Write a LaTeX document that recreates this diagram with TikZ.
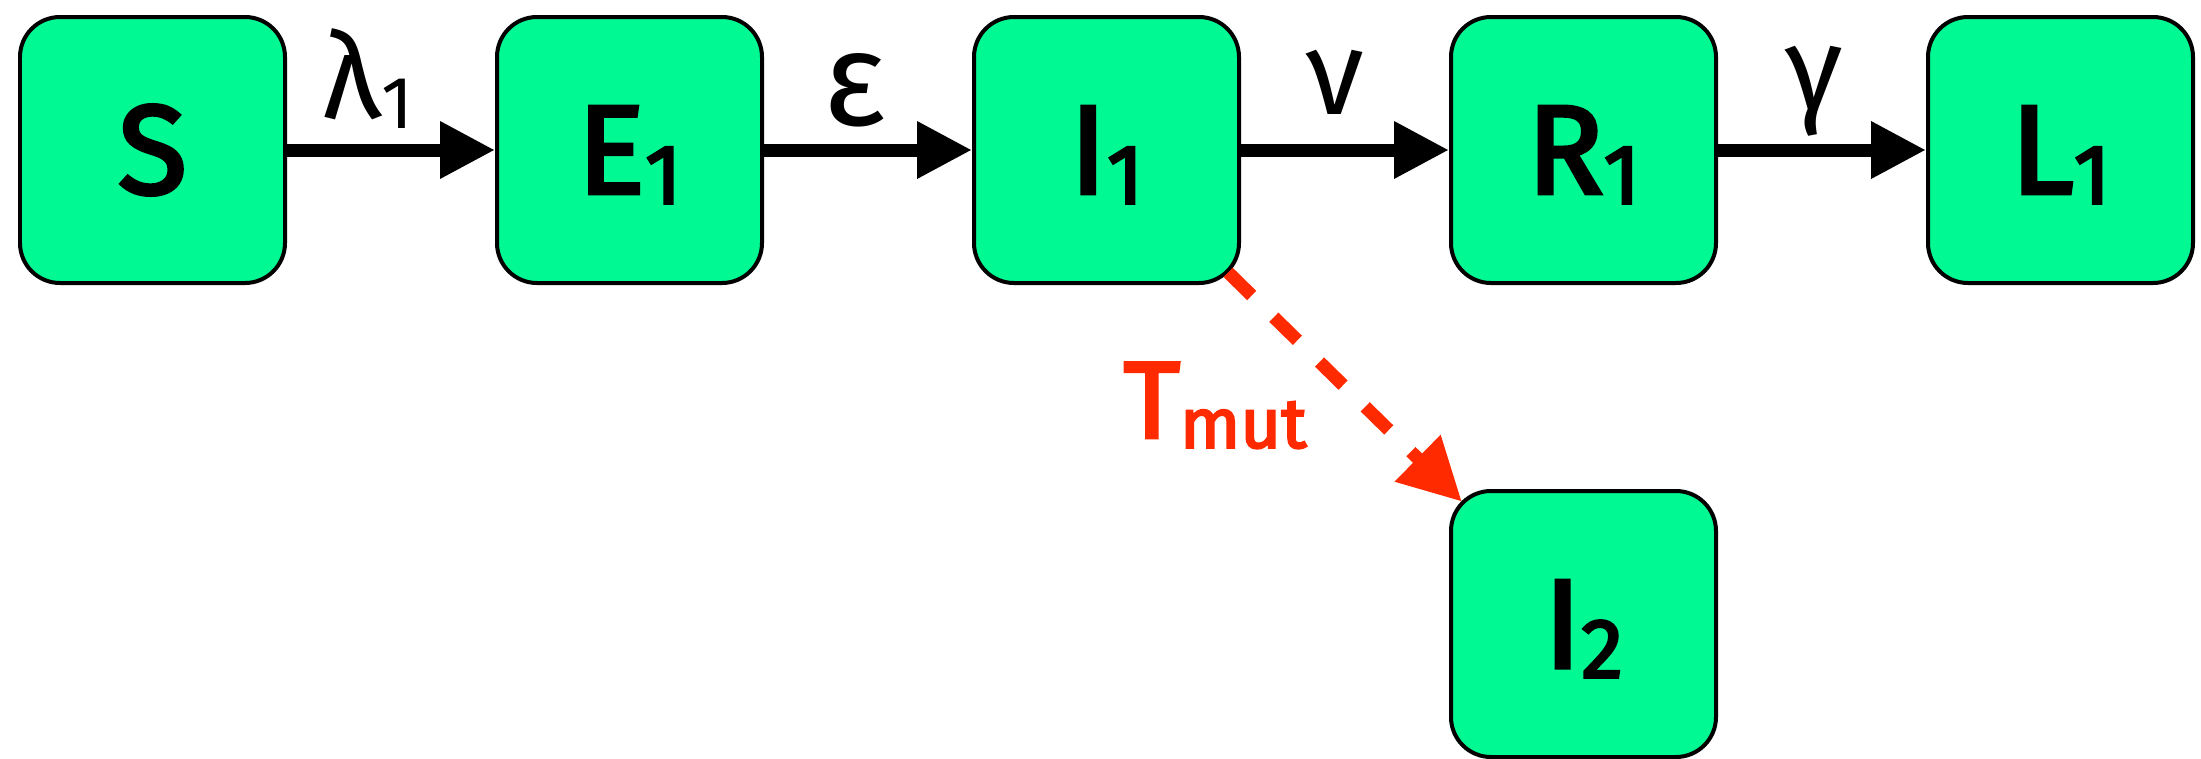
\documentclass[tikz,border=0pt]{standalone}
\usepackage{fontspec}
\setmainfont{Fira Sans}
\newfontfamily\boxfont{Fira Sans}[BoldFont={Fira Sans}, BoldFeatures={FakeBold=3}]
\usetikzlibrary{positioning,arrows.meta}
\definecolor{boxgreen}{RGB}{0,249,146}
\definecolor{mutred}{RGB}{255,42,0}
\newcommand\lowsub[2][24]{\raisebox{-0.1cm}[0pt][0pt]{\fontsize{#1}{#1}\selectfont #2}}
\begin{document}
\begin{tikzpicture}[
  comp/.style={rectangle, rounded corners=0.4cm, draw=black, line width=0.04cm, fill=boxgreen,
    minimum width=2.65cm, minimum height=2.66cm, inner sep=0pt, font=\boxfont\bfseries\fontsize{36}{40}\selectfont},
  flow/.style={line width=0.13cm, -{Triangle[length=0.55cm,width=0.54cm]}},
  mutflow/.style={draw=mutred, line width=0.13cm, dash pattern=on 0.33cm off 0.31cm,
    shorten <=-0.18cm, shorten >=-0.18cm, -{Triangle[length=0.62cm,width=0.62cm]}},
  rate/.style={inner sep=0pt, font=\fontsize{34}{40}\selectfont},
  node distance=2.08cm,
  ]
 \useasboundingbox (0,0) rectangle (22.01,-7.59);
 % compartments
 \node [comp] (S) at (1.525,-1.50) {S};
 \node [comp, right=of S] (E1) {E\lowsub{1}};
 \node [comp, right=of E1] (I1) {I\lowsub{1}};
 \node [comp, right=of I1] (R1) {R\lowsub{1}};
 \node [comp, right=of R1] (L1) {L\lowsub{1}};
 \node [comp, below=2.04cm of R1] (I2) {I\lowsub{2}};
 % transitions
 \draw [flow] (S) -- node [rate, above=0.24cm, xshift=-0.23cm] (lam) {λ\lowsub[21]{1}} (E1);
 \draw [flow] (E1) -- node [rate, above=0.16cm, xshift=-0.13cm, font=\fontsize{38}{40}\selectfont] (eps) {ε} (I1);
 \draw [flow] (I1) -- node [rate, above=0.29cm, xshift=-0.10cm] (nu) {ν} (R1);
 \draw [flow] (R1) -- node [rate, above=0.07cm, xshift=-0.08cm] (gam) {γ} (L1);
 \draw [mutflow] (I1.south east) -- (I2.north west);
 \node [inner sep=0pt, anchor=north west, text=mutred, font=\boxfont\bfseries\fontsize{31}{40}\selectfont]
   (tmut) at ([xshift=-1.18cm, yshift=-0.77cm]I1.south east) {T\lowsub[20]{mut}};
\end{tikzpicture}
\end{document}
